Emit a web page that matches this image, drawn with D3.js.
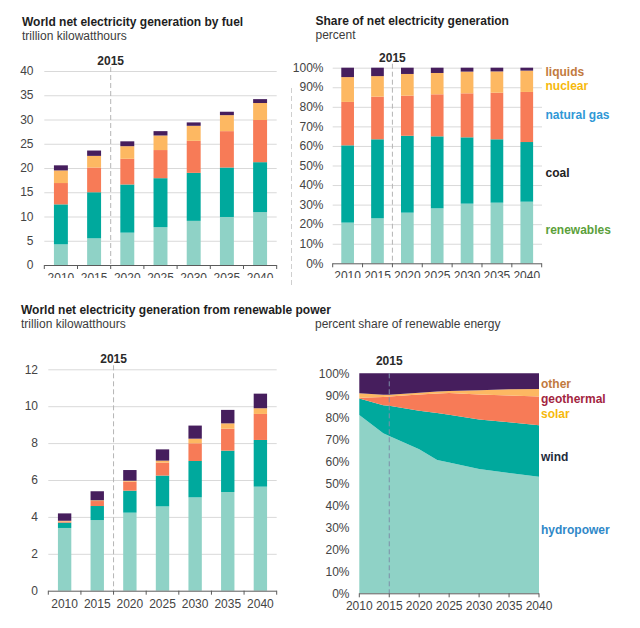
<!DOCTYPE html>
<html><head><meta charset="utf-8">
<script src="https://cdn.jsdelivr.net/npm/d3@7"></script>
<style>
body{margin:0;background:#fff;}
svg{display:block;font-family:"Liberation Sans",Arial,Helvetica,sans-serif;}
</style>
</head><body>
<svg id="chart" width="640" height="628"></svg>
<script>
// ---------- DATA ----------
const years = ["2010","2015","2020","2025","2030","2035","2040"];

// World net electricity generation by fuel (trillion kWh)
const fuelKeys = ["renewables","coal","natural gas","nuclear","liquids"];
const fuelRenewables = [4.26, 5.5, 6.67, 7.8, 9.1, 9.9, 10.9];
const fuelCoal       = [8.24, 9.5, 9.93, 10.1, 9.9, 10.2, 10.3];
const fuelGas        = [4.4, 5.1, 5.3, 5.8, 6.6, 7.5, 8.7];
const fuelNuclear    = [2.6, 2.4, 2.6, 3.0, 3.1, 3.3, 3.5];
const fuelLiquids    = [1.05, 1.1, 1.0, 0.9, 0.7, 0.7, 0.8];

// Share of net electricity generation (percent)
const shareRenewables = [20.8, 23.0, 25.9, 28.1, 30.5, 31.0, 31.5];
const shareCoal       = [39.5, 40.4, 39.3, 36.8, 33.9, 32.4, 30.5];
const shareGas        = [22.2, 21.8, 20.5, 21.5, 22.5, 23.8, 25.6];
const shareNuclear    = [12.7, 10.5, 11.1, 10.9, 11.1, 10.9, 10.9];
const shareLiquids    = [4.8, 4.3, 3.2, 2.7, 2.0, 1.9, 1.5];

// Renewable generation (trillion kWh)
const renKeys = ["hydropower","wind","solar","geothermal","other"];
const renHydro = [3.40, 3.83, 4.23, 4.57, 5.06, 5.35, 5.64];
const renWind  = [0.29, 0.76, 1.19, 1.67, 1.97, 2.24, 2.53];
const renSolar = [0.06, 0.27, 0.49, 0.70, 0.96, 1.19, 1.41];
const renGeo   = [0.04, 0.04, 0.05, 0.11, 0.25, 0.29, 0.31];
const renOther = [0.40, 0.49, 0.58, 0.61, 0.71, 0.73, 0.79];

// Percent share of renewable energy (area)
const areaYears = [2010, 2014, 2015, 2020, 2023, 2025, 2030, 2035, 2040];
const areaHydro = [81.0, 72.7, 71.5, 65.5, 60.6, 59.5, 56.5, 54.7, 53.0];
const areaWind  = [7.6, 12.8, 13.8, 17.5, 21.4, 21.7, 22.5, 23.1, 23.4];
const areaSolar = [0.3, 3.7, 4.1, 7.4, 8.8, 9.8, 11.4, 12.1, 13.1];
const areaGeo   = [2.0, 1.0, 0.8, 0.8, 0.9, 1.0, 1.9, 2.8, 3.4];
const areaOther = [9.1, 9.8, 9.8, 8.8, 8.3, 8.0, 7.7, 7.3, 7.1];

const ticksFuel  = [0,5,10,15,20,25,30,35,40];
const ticksPct   = [0,10,20,30,40,50,60,70,80,90,100];
const ticksRen   = [0,2,4,6,8,10,12];
const areaTicks  = [2010,2015,2020,2025,2030,2035,2040];

const fills = ["#8fd2c6","#00a99d","#f77b57","#fdb862","#461e5d"];
const fuelLegend = [
  {t:"liquids", c:"#c27a3e"}, {t:"nuclear", c:"#f6b90c"},
  {t:"natural gas", c:"#2f98d6"}, {t:"coal", c:"#222222"},
  {t:"renewables", c:"#5b9f3b"}];
const renLegend = [
  {t:"other", c:"#c27a3e"}, {t:"geothermal", c:"#a3253f"},
  {t:"solar", c:"#f6b90c"}, {t:"wind", c:"#1e2b3c"},
  {t:"hydropower", c:"#2f88c8"}];

// ---------- DRAW ----------
const svg = d3.select("#chart");
const TXT = "#444";
const AX = "#5a5a5a";
const GRID = "#d9d9d9";

svg.append("defs").append("clipPath").attr("id","topclip")
  .append("rect").attr("x",0).attr("y",0).attr("width",640).attr("height",278);

function titles(x, y, title, sub) {
  if (title) svg.append("text").attr("x",x).attr("y",y).attr("font-size",12)
    .attr("font-weight","bold").attr("fill","#1e1e1e").text(title);
  if (sub) svg.append("text").attr("x", sub.x ?? x).attr("y",y+14).attr("font-size",12)
    .attr("fill","#3c3c3c").text(sub.t);
}

function barChart(cfg) {
  const g = svg.append("g");
  const x = d3.scaleBand().domain(years).range([cfg.left, cfg.right])
    .paddingInner(cfg.pad).paddingOuter(cfg.pad/2);
  const y = d3.scaleLinear().domain([0, cfg.max]).range([cfg.bottom, cfg.top]);
  // grid
  g.selectAll(".grid").data(cfg.ticks.filter(d=>d>0)).join("line")
    .attr("x1",cfg.left).attr("x2",cfg.gridRight ?? cfg.right)
    .attr("y1",d=>y(d)+0.5).attr("y2",d=>y(d)+0.5)
    .attr("stroke",GRID).attr("stroke-width",1);
  // y labels
  g.selectAll(".yl").data(cfg.ticks).join("text")
    .attr("x",cfg.labelX).attr("y",d=>y(d)).attr("dy","0.35em")
    .attr("text-anchor","end").attr("font-size",12).attr("fill",TXT)
    .text(cfg.fmt);
  // stacks
  const table = years.map((yr,i)=>{const o={year:yr}; cfg.keys.forEach((k,j)=>o[k]=cfg.series[j][i]); return o;});
  const stacked = d3.stack().keys(cfg.keys)(table);
  g.selectAll(".layer").data(stacked).join("g")
    .attr("fill",(d,i)=>fills[i])
    .selectAll("rect").data(d=>d).join("rect")
    .attr("x",d=>x(d.data.year)).attr("width",x.bandwidth())
    .attr("y",d=>y(d[1])).attr("height",d=>y(d[0])-y(d[1]));
  // x axis
  const step = x.step();
  const bounds = d3.range(years.length+1).map(i=>cfg.left + i*step);
  g.append("line").attr("x1",cfg.left).attr("x2",cfg.right)
    .attr("y1",cfg.bottom+0.5).attr("y2",cfg.bottom+0.5).attr("stroke",AX).attr("stroke-width",1);
  g.selectAll(".tk").data(bounds).join("line")
    .attr("x1",d=>d).attr("x2",d=>d).attr("y1",cfg.bottom).attr("y2",cfg.bottom+4)
    .attr("stroke",AX).attr("stroke-width",1);
  const xl = g.append("g");
  if (cfg.clip) xl.attr("clip-path","url(#topclip)");
  xl.selectAll("text").data(years).join("text")
    .attr("x",d=>x(d)+x.bandwidth()/2).attr("y",cfg.bottom+17)
    .attr("text-anchor","middle").attr("font-size",12).attr("fill",TXT).text(d=>d);
  // 2015 divider
  const bx = bounds[2];
  g.append("line").attr("x1",bx).attr("x2",bx).attr("y1",cfg.top-4).attr("y2",cfg.bottom)
    .attr("stroke","#b5b5b5").attr("stroke-width",1).attr("stroke-dasharray","5,3");
  g.append("text").attr("x",bx).attr("y",cfg.top-6).attr("text-anchor","middle")
    .attr("font-size",12).attr("font-weight","bold").attr("fill","#2a2a2a").text("2015");
}

// Top-left
titles(22, 26, "World net electricity generation by fuel", {t:"trillion kilowatthours"});
barChart({left:44.3,right:276.7,top:71,bottom:265,max:40,ticks:ticksFuel,fmt:d=>d,labelX:33.5,
  pad:0.58,keys:fuelKeys,series:[fuelRenewables,fuelCoal,fuelGas,fuelNuclear,fuelLiquids],clip:true});

// Top-right
titles(315.5, 25, "Share of net electricity generation", {t:"percent"});
barChart({left:332.7,right:541.7,gridRight:542,top:67.7,bottom:263.3,max:100,ticks:ticksPct,fmt:d=>d+"%",labelX:323.5,
  pad:0.575,keys:fuelKeys,series:[shareRenewables,shareCoal,shareGas,shareNuclear,shareLiquids],clip:true});
const fuelLegendY = [71.7, 86, 114.3, 172.3, 229.3];
svg.selectAll(".fleg").data(fuelLegend).join("text")
  .attr("x",545.5).attr("y",(d,i)=>fuelLegendY[i]).attr("dy","0.35em")
  .attr("font-size",12).attr("font-weight","bold").attr("fill",d=>d.c).text(d=>d.t);

// panel separator
svg.append("line").attr("x1",291.5).attr("x2",291.5).attr("y1",88).attr("y2",287)
  .attr("stroke","#cfcfcf").attr("stroke-width",1).attr("stroke-dasharray","5,3");

// Bottom-left
titles(21, 314, "World net electricity generation from renewable power", null);
svg.append("text").attr("x",21).attr("y",328).attr("font-size",12).attr("fill","#3c3c3c").text("trillion kilowatthours");
svg.append("text").attr("x",315).attr("y",328).attr("font-size",12).attr("fill","#3c3c3c").text("percent share of renewable energy");
barChart({left:48.3,right:276.7,top:369.3,bottom:590.7,max:12,ticks:ticksRen,fmt:d=>d,labelX:38,
  pad:0.59,keys:renKeys,series:[renHydro,renWind,renSolar,renGeo,renOther],clip:false});

// Bottom-right area chart
(function(){
  const g = svg.append("g");
  const left=359.3, right=539, top=373.3, bottom=593.3;
  const x = d3.scaleLinear().domain([2010,2040]).range([left,right]);
  const y = d3.scaleLinear().domain([0,100]).range([bottom,top]);
  const series = [areaHydro, areaWind, areaSolar, areaGeo, areaOther];
  const table = areaYears.map((yr,i)=>{const o={year:yr}; renKeys.forEach((k,j)=>o[k]=series[j][i]); return o;});
  const stacked = d3.stack().keys(renKeys)(table);
  const area = d3.area().x(d=>x(d.data.year)).y0(d=>y(d[0])).y1(d=>y(d[1]));
  g.selectAll("path").data(stacked).join("path")
    .attr("fill",(d,i)=>fills[i]).attr("d",area);
  g.selectAll(".yl").data(ticksPct).join("text")
    .attr("x",349.5).attr("y",d=>y(d)).attr("dy","0.35em")
    .attr("text-anchor","end").attr("font-size",12).attr("fill",TXT).text(d=>d+"%");
  g.append("line").attr("x1",left).attr("x2",right).attr("y1",bottom+0.5).attr("y2",bottom+0.5)
    .attr("stroke",AX);
  g.selectAll(".tk").data(areaTicks).join("line")
    .attr("x1",d=>x(d)).attr("x2",d=>x(d)).attr("y1",bottom).attr("y2",bottom+4).attr("stroke",AX);
  g.selectAll(".xl").data(areaTicks).join("text")
    .attr("x",d=>x(d)).attr("y",bottom+16.5).attr("text-anchor","middle")
    .attr("font-size",12).attr("fill",TXT).text(d=>d);
  const bx = x(2015);
  g.append("line").attr("x1",bx).attr("x2",bx).attr("y1",top).attr("y2",bottom)
    .attr("stroke","#7d8fa8").attr("stroke-width",1).attr("stroke-dasharray","5,3");
  g.append("text").attr("x",bx).attr("y",365).attr("text-anchor","middle")
    .attr("font-size",12).attr("font-weight","bold").attr("fill","#2a2a2a").text("2015");
  const ly = [384, 399, 414, 456.7, 529.3];
  g.selectAll(".leg").data(renLegend).join("text")
    .attr("x",541).attr("y",(d,i)=>ly[i]).attr("dy","0.35em")
    .attr("font-size",12).attr("font-weight","bold").attr("fill",d=>d.c).text(d=>d.t);
})();
</script>
</body></html>
